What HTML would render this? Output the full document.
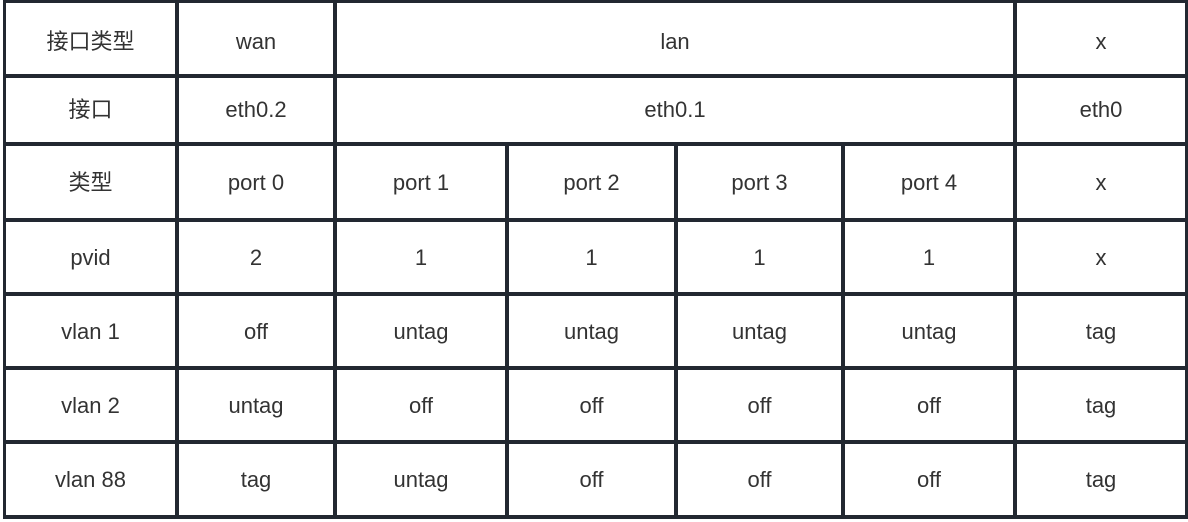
<!DOCTYPE html>
<html><head><meta charset="utf-8"><style>
body{margin:0;width:1188px;height:522px;background:#fff;position:relative;overflow:hidden;font-family:"Liberation Sans","Noto Sans CJK SC",sans-serif;color:#333;}
.h{position:absolute;height:4px;background:#222831;}
.v{position:absolute;width:4px;background:#222831;}
.t{position:absolute;text-align:center;font-size:22px;line-height:24px;}
</style></head><body>
<div class="h" style="left:3px;width:1185px;top:0;height:3px"></div>
<div class="h" style="left:3px;width:1185px;top:74px"></div>
<div class="h" style="left:3px;width:1185px;top:142px"></div>
<div class="h" style="left:3px;width:1185px;top:218px"></div>
<div class="h" style="left:3px;width:1185px;top:292px"></div>
<div class="h" style="left:3px;width:1185px;top:366px"></div>
<div class="h" style="left:3px;width:1185px;top:440px"></div>
<div class="h" style="left:3px;width:1185px;top:515px"></div>
<div class="v" style="left:3px;top:0;height:519px;width:3px"></div>
<div class="v" style="left:175px;top:0;height:519px"></div>
<div class="v" style="left:333px;top:0;height:519px"></div>
<div class="v" style="left:505px;top:142px;height:377px"></div>
<div class="v" style="left:674px;top:142px;height:377px"></div>
<div class="v" style="left:841px;top:142px;height:377px"></div>
<div class="v" style="left:1013px;top:0;height:519px"></div>
<div class="v" style="left:1185px;top:0;height:519px;width:3px"></div>

<div class="t" style="left:6px;width:169px;top:30px">接口类型</div>
<div class="t" style="left:179px;width:154px;top:30px">wan</div>
<div class="t" style="left:337px;width:676px;top:30px">lan</div>
<div class="t" style="left:1017px;width:168px;top:30px">x</div>

<div class="t" style="left:6px;width:169px;top:98px">接口</div>
<div class="t" style="left:179px;width:154px;top:98px">eth0.2</div>
<div class="t" style="left:337px;width:676px;top:98px">eth0.1</div>
<div class="t" style="left:1017px;width:168px;top:98px">eth0</div>

<div class="t" style="left:6px;width:169px;top:171px">类型</div>
<div class="t" style="left:179px;width:154px;top:171px">port 0</div>
<div class="t" style="left:337px;width:168px;top:171px">port 1</div>
<div class="t" style="left:509px;width:165px;top:171px">port 2</div>
<div class="t" style="left:678px;width:163px;top:171px">port 3</div>
<div class="t" style="left:845px;width:168px;top:171px">port 4</div>
<div class="t" style="left:1017px;width:168px;top:171px">x</div>

<div class="t" style="left:6px;width:169px;top:246px">pvid</div>
<div class="t" style="left:179px;width:154px;top:246px">2</div>
<div class="t" style="left:337px;width:168px;top:246px">1</div>
<div class="t" style="left:509px;width:165px;top:246px">1</div>
<div class="t" style="left:678px;width:163px;top:246px">1</div>
<div class="t" style="left:845px;width:168px;top:246px">1</div>
<div class="t" style="left:1017px;width:168px;top:246px">x</div>

<div class="t" style="left:6px;width:169px;top:320px">vlan 1</div>
<div class="t" style="left:179px;width:154px;top:320px">off</div>
<div class="t" style="left:337px;width:168px;top:320px">untag</div>
<div class="t" style="left:509px;width:165px;top:320px">untag</div>
<div class="t" style="left:678px;width:163px;top:320px">untag</div>
<div class="t" style="left:845px;width:168px;top:320px">untag</div>
<div class="t" style="left:1017px;width:168px;top:320px">tag</div>

<div class="t" style="left:6px;width:169px;top:394px">vlan 2</div>
<div class="t" style="left:179px;width:154px;top:394px">untag</div>
<div class="t" style="left:337px;width:168px;top:394px">off</div>
<div class="t" style="left:509px;width:165px;top:394px">off</div>
<div class="t" style="left:678px;width:163px;top:394px">off</div>
<div class="t" style="left:845px;width:168px;top:394px">off</div>
<div class="t" style="left:1017px;width:168px;top:394px">tag</div>

<div class="t" style="left:6px;width:169px;top:468px">vlan 88</div>
<div class="t" style="left:179px;width:154px;top:468px">tag</div>
<div class="t" style="left:337px;width:168px;top:468px">untag</div>
<div class="t" style="left:509px;width:165px;top:468px">off</div>
<div class="t" style="left:678px;width:163px;top:468px">off</div>
<div class="t" style="left:845px;width:168px;top:468px">off</div>
<div class="t" style="left:1017px;width:168px;top:468px">tag</div>
</body></html>
